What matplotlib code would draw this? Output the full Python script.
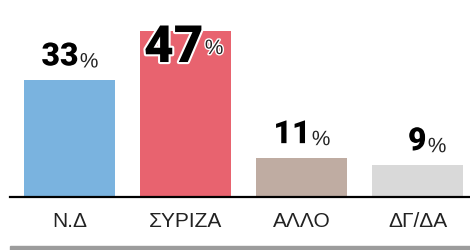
import matplotlib
matplotlib.use("Agg")
import matplotlib.pyplot as plt
import matplotlib.patheffects as pe
from matplotlib.patches import Rectangle

# data
parties = ["Ν.Δ", "ΣΥΡΙΖΑ", "ΑΛΛΟ", "ΔΓ/ΔΑ"]
shares = [33, 47, 11, 9]
colors = ["#7ab3df", "#e8636f", "#bfaca2", "#d9d9d9"]

num_font = ["Roboto", "DejaVu Sans"]
label_font = ["Liberation Sans", "DejaVu Sans"]

fig = plt.figure(figsize=(4.7, 2.5), dpi=100)
ax = fig.add_axes([0, 53 / 250, 1, 197 / 250])

x = range(len(parties))
ax.bar(x, shares, width=0.79, color=colors, zorder=2)

ax.set_xlim(-0.599, 3.453)
ax.set_ylim(0, max(shares) * 1.187)

# big number + small percent sign above each bar
for i, v in enumerate(shares):
    big = v == max(shares)
    size = 37 if big else 23
    dx = 18 if big else 9     # px right of bar centre for end of number
    dy = -31 if big else 15   # px above bar top for the baseline
    num = ax.annotate(str(v), xy=(i, v), xytext=(dx * 0.72, dy * 0.72),
                      textcoords="offset points", ha="right", va="baseline",
                      fontsize=size, family=num_font, weight=900, color="black",
                      zorder=5,
                      path_effects=[pe.withStroke(linewidth=3, foreground="white")])
    ax.annotate("%", xy=(1, 0.3 if big else 0), xycoords=num, xytext=(1, 0),
                textcoords="offset points", ha="left", va="bottom",
                fontsize=15, family=label_font, color="#222222", zorder=5,
                path_effects=[pe.withStroke(linewidth=2, foreground="white")])

ax.set_xticks(list(x))
ax.set_xticklabels(parties, family=label_font, fontsize=15, color="#222222")
ax.tick_params(axis="x", length=0, pad=11)
ax.set_yticks([])
for s in ax.spines.values():
    s.set_visible(False)

# baseline
ax.axhline(0, xmin=10 / 470, xmax=1, color="black", lw=1.6, clip_on=False, zorder=3)

# grey band at the bottom
fig.patches.append(Rectangle((10 / 470, 0), 1, 4.5 / 250, transform=fig.transFigure,
                             color="#9c9c9c", zorder=1))

fig.savefig("out.png", dpi=100, facecolor="white")
